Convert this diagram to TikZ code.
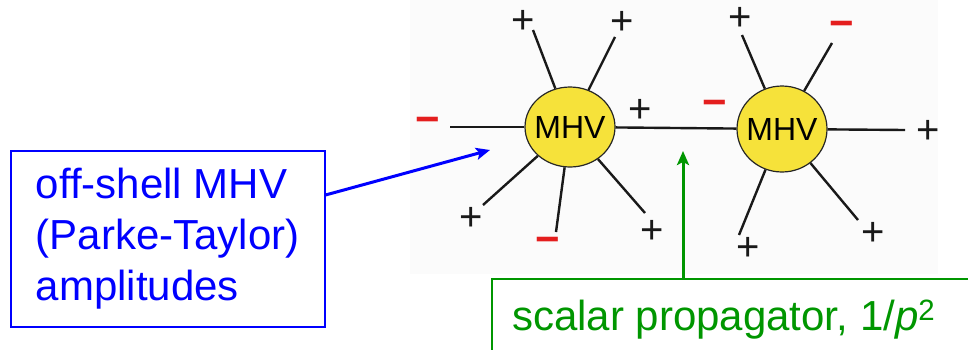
\documentclass[tikz,border=0pt]{standalone}
\usepackage{fontspec}
\setmainfont{Liberation Sans}
\usetikzlibrary{shapes.geometric,arrows.meta}
\definecolor{myyellow}{RGB}{246,226,58}
\definecolor{myred}{RGB}{228,30,30}
\definecolor{mygreen}{RGB}{0,150,0}
\definecolor{bggray}{RGB}{251,251,251}
\tikzset{
  mhv/.style={ellipse, draw=black!85, line width=1.2pt, fill=myyellow, inner sep=0pt,
    font=\fontsize{32}{32}\selectfont},
  leg/.style={line width=2.4pt, black!90},
  plus/.style={inner sep=0pt, font=\fontsize{40}{40}\selectfont, text=black!90},
  minus/.style={inner sep=0pt, font=\fontsize{42}{42}\selectfont\bfseries, text=myred},
  callout/.style={line width=3pt, -{Stealth[length=14pt,width=12pt,inset=3pt]}},
}
\begin{document}
\begin{tikzpicture}[x=1pt,y=-1pt]
\useasboundingbox (0,0) rectangle (968,349);
\clip (0,0) rectangle (968,349);
% faint background of the pasted diagram
\fill[bggray] (410,0) rectangle (938,274);

% MHV vertices
\node[mhv, minimum width=90pt, minimum height=80pt] (m1) at (570,127) {\makebox[0pt]{MHV}};
\node[mhv, minimum width=90pt, minimum height=86pt] (m2) at (782,129) {\makebox[0pt]{MHV}};

% legs of left vertex
\coordinate (a1) at (450,127);
\coordinate (a2) at (533,30);
\coordinate (a3) at (615,37);
\coordinate (a4) at (483,205);
\coordinate (a5) at (556,232);
\coordinate (a6) at (645,213);
\foreach \c in {a1,a2,a3,a4,a5,a6} \draw[leg] (m1) -- (\c);
% propagator
\draw[leg] (m1) -- (m2);
% legs of right vertex
\coordinate (b1) at (742,35);
\coordinate (b2) at (832,43);
\coordinate (b3) at (905,130);
\coordinate (b4) at (739,235);
\coordinate (b5) at (858,220);
\foreach \c in {b1,b2,b3,b4,b5} \draw[leg] (m2) -- (\c);

% helicity labels, left vertex
\node[minus] (l1) at (428,125) {−};
\node[plus]  (l2) at (523,22) {+};
\node[plus]  (l3) at (622,23) {+};
\node[plus]  (l4) at (640,111) {+};
\node[plus]  (l5) at (471,219) {+};
\node[minus] (l6) at (548,245) {−};
\node[plus]  (l7) at (652,232) {+};
% helicity labels, right vertex
\node[minus] (r1) at (715,108) {−};
\node[plus]  (r2) at (740,19) {+};
\node[minus] (r3) at (842,29) {−};
\node[plus]  (r4) at (928,132) {+};
\node[plus]  (r5) at (748,249) {+};
\node[plus]  (r6) at (873,234) {+};

% blue annotation box
\node[draw=blue, line width=1.5pt, text=blue, align=left, anchor=north west,
      minimum width=314pt, minimum height=176pt, inner sep=0pt,
      font=\fontsize{42}{51}\selectfont] (blue) at (10,150)
      {off-shell MHV\\(Parke-Taylor)\\amplitudes};
\coordinate (bt) at (490,150);
\draw[callout, blue] ([yshift=-45pt]blue.north east) -- (bt);

% green annotation box
\node[draw=mygreen, line width=1.5pt, anchor=north west, minimum width=520pt,
      minimum height=110pt, inner sep=0pt] (green) at (491,278) {};
\node[anchor=base west, inner sep=0pt, text=mygreen,
      font=\fontsize{42}{51}\selectfont] (gt) at (512,330)
      {scalar propagator, 1/\textit{p}\textsuperscript{2}};
\coordinate (gtip) at (683,151);
\draw[callout, mygreen] (green.north west -| gtip) -- (gtip);
\end{tikzpicture}
\end{document}
